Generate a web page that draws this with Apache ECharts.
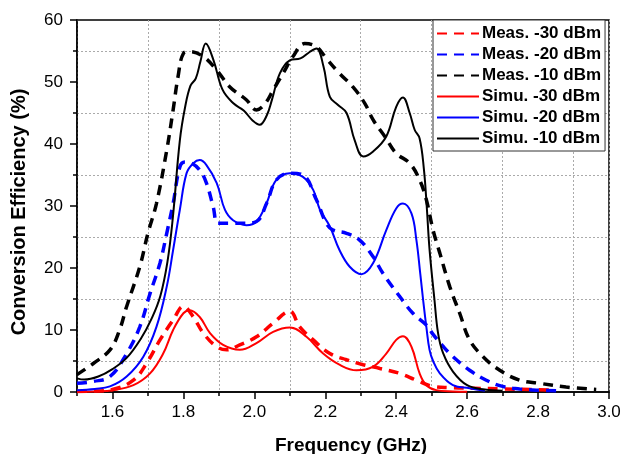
<!DOCTYPE html>
<html>
<head>
<meta charset="utf-8">
<script src="https://cdn.jsdelivr.net/npm/echarts@6/dist/echarts.min.js"></script>
<style>
html,body{margin:0;padding:0;background:#fff;}
#chart{width:624px;height:454px;}
</style>
</head>
<body>
<div id="chart"></div>
<script>
// ---- tick labels ----
const freqTicks = [1.6, 1.8, 2.0, 2.2, 2.4, 2.6, 2.8, 3.0];
const seriesNames = ['Meas. -30 dBm', 'Meas. -20 dBm', 'Meas. -10 dBm', 'Simu. -30 dBm', 'Simu. -20 dBm', 'Simu. -10 dBm'];

// ---- Meas. -30 dBm ----
const measM30Freq = [1.50,1.55,1.60,1.659,1.696,1.734,1.771,1.80,1.828,1.856,1.894,1.922,1.959,2.006,2.053,2.10,2.128,2.166,2.213,2.26,2.307,2.354,2.41,2.457,2.504,2.55,2.62,2.70,2.78,2.85];
const measM30Val  = [0.1,0.15,0.4,1.9,4.6,8.4,11.6,13.8,12.1,9.5,7.3,6.8,7.6,8.9,11.1,13.0,10.5,8.4,6.2,5.2,4.4,3.8,3.0,1.9,0.9,0.7,0.6,0.5,0.4,0.3];

// ---- Meas. -20 dBm ----
const measM20Freq = [1.50,1.546,1.593,1.64,1.677,1.706,1.734,1.753,1.771,1.79,1.804,1.823,1.846,1.865,1.884,1.898,1.931,1.968,2.006,2.035,2.062,2.10,2.137,2.175,2.203,2.222,2.26,2.297,2.335,2.363,2.41,2.447,2.485,2.504,2.53,2.56,2.607,2.654,2.70,2.748,2.795,2.87];
const measM20Val  = [1.4,1.7,2.5,6.2,10.5,15.9,20.8,25.6,30.4,36.3,37.1,36.9,35.8,33.7,29.9,27.2,27.2,27.2,27.5,30.5,34.2,35.3,35.0,31.0,27.2,26.1,25.6,24.5,21.8,19.1,15.4,12.7,10.8,9.3,7.5,5.7,3.5,1.9,0.9,0.5,0.3,0.2];

// ---- Meas. -10 dBm ----
const measM10Freq = [1.50,1.546,1.593,1.62,1.64,1.677,1.70,1.724,1.753,1.771,1.785,1.80,1.818,1.856,1.894,1.931,1.978,2.006,2.03,2.053,2.081,2.109,2.142,2.175,2.203,2.24,2.278,2.311,2.335,2.368,2.40,2.438,2.466,2.485,2.504,2.523,2.551,2.579,2.607,2.645,2.692,2.748,2.804,2.879,2.964];
const measM10Val  = [2.8,4.6,6.8,10,13.8,20.2,25.6,30.4,39,45.5,50.9,54.6,54.9,54.1,51.9,49.2,47.1,45.5,46.5,48.7,51.4,54.1,56.2,55.7,53.8,51.4,49.2,46.6,43.9,41.2,38.5,36.9,34.2,31,26.1,22.4,17,12.7,8.4,5.7,3.5,1.9,1.4,0.8,0.4];

// ---- Simu. -30 dBm ----
const simuM30Freq = [1.50,1.55,1.602,1.659,1.706,1.743,1.771,1.80,1.818,1.846,1.875,1.912,1.959,2.006,2.053,2.10,2.147,2.194,2.24,2.288,2.335,2.372,2.40,2.419,2.443,2.466,2.485,2.513,2.56,2.60];
const simuM30Val  = [0.05,0.1,0.3,1.1,3.0,6.2,10,12.7,13.2,12.1,9.5,7.6,6.8,7.9,9.7,10.4,8.9,6.2,4.4,3.5,4.1,6.2,8.4,9.0,7.3,3.0,1.1,0.3,0.1,0.05];

// ---- Simu. -20 dBm ----
const simuM20Freq = [1.50,1.55,1.593,1.64,1.687,1.724,1.753,1.771,1.79,1.809,1.828,1.846,1.865,1.894,1.917,1.94,1.978,2.006,2.034,2.062,2.10,2.137,2.166,2.185,2.213,2.24,2.269,2.302,2.335,2.372,2.40,2.419,2.443,2.457,2.468,2.476,2.485,2.494,2.504,2.523,2.56,2.607,2.65];
const simuM20Val  = [0.3,0.5,0.9,2.5,5.7,10.5,17,22.9,29.4,35.3,36.9,37.4,36.6,33.7,29.4,27.7,26.9,27.5,30.4,34.2,35.3,34.7,32.6,29.4,26.7,22.9,20.2,19.0,20.8,26.1,29.6,30.4,28.8,24.5,19,14.8,10.5,6.8,5.0,3.0,1.1,0.6,0.2];

// ---- Simu. -10 dBm ----
const simuM10Freq = [1.50,1.52,1.56,1.60,1.64,1.68,1.71,1.735,1.755,1.77,1.79,1.805,1.82,1.835,1.848,1.863,1.885,1.91,1.94,1.97,1.995,2.015,2.035,2.05,2.072,2.10,2.13,2.155,2.175,2.195,2.213,2.236,2.26,2.283,2.307,2.335,2.372,2.40,2.419,2.438,2.452,2.466,2.478,2.486,2.494,2.508,2.518,2.532,2.56,2.60,2.65,2.70];
const simuM10Val  = [2.2,2.0,2.5,3.7,5.5,8.6,11.8,15.5,21,28,40.6,46,49.4,50.6,53.3,56.2,53.5,48.8,46.6,45.4,43.8,43.1,44.6,47.2,51.4,53.5,53.8,54.8,55.4,52.5,47.6,46.3,45,40.6,38,38.8,41.2,46,47.5,45,42.3,40.9,36,30,23,14.8,9.5,6.3,3.3,1.1,0.4,0.2];

function pairs(fs, vs) { return fs.map((f, i) => [f, vs[i]]); }

const FONT = '"Liberation Sans", Arial, sans-serif';
const RED = '#ff0000', BLUE = '#0000ff', BLACK = '#000000';

function measSeries(name, fs, vs, color) {
  return {
    name, type: 'line', xAxisIndex: 0, yAxisIndex: 0,
    data: pairs(fs, vs), smooth: 0.4, symbol: 'none', showSymbol: false,
    lineStyle: { color, width: 3.5, type: [10, 7] },
    itemStyle: { color }, z: 3
  };
}
function simuSeries(name, fs, vs, color) {
  return {
    name, type: 'line', xAxisIndex: 0, yAxisIndex: 0,
    data: pairs(fs, vs), smooth: 0.4, symbol: 'none', showSymbol: false,
    lineStyle: { color, width: 2 },
    itemStyle: { color }, z: 4
  };
}

const chart = echarts.init(document.getElementById('chart'), null, { renderer: 'canvas' });
chart.setOption({
  animation: false,
  backgroundColor: '#fff',
  textStyle: { fontFamily: FONT },
  grid: { left: 77, right: 15, top: 20, bottom: 62, containLabel: false, outerBoundsMode: 'none', show: true, borderColor: '#000', borderWidth: 1.5, backgroundColor: 'transparent' },
  legend: {
    orient: 'vertical', left: 433, top: 20,
    data: seriesNames,
    itemWidth: 42, itemHeight: 14, itemGap: 4,
    padding: [5, 4, 4, 3],
    backgroundColor: '#fff', borderColor: '#333', borderWidth: 1, borderRadius: 0,
    itemStyle: { opacity: 0 },
    textStyle: { fontFamily: FONT, fontSize: 17, fontWeight: 'bold', color: '#000', lineHeight: 17, padding: [0, 0, 0, -2] }
  },
  xAxis: [
    {
      type: 'value', min: 1.5, max: 3.0, position: 'bottom',
      name: 'Frequency (GHz)', nameLocation: 'middle', nameGap: 44,
      nameTextStyle: { fontFamily: FONT, fontSize: 19, fontWeight: 'bold', color: '#000', padding: [0, 0, 0, 16] },
      axisLine: { show: true, lineStyle: { color: '#000', width: 1.5 } },
      axisTick: { show: true, customValues: freqTicks, length: 7, lineStyle: { color: '#000', width: 1.5 } },
      axisLabel: { customValues: freqTicks, formatter: v => Number(v).toFixed(1), fontFamily: FONT, fontSize: 17, color: '#000', margin: 12 },
      splitLine: { show: false }
    },
    {
      type: 'value', min: 1.5, max: 3.0, interval: 0.2, position: 'bottom',
      axisLine: { show: false },
      axisTick: { show: true, length: 4, lineStyle: { color: '#000', width: 1.5 } },
      axisLabel: { show: false },
      splitLine: { show: true, lineStyle: { color: '#aaa', width: 1, type: [2, 2] } }
    }
  ],
  yAxis: {
    type: 'value', min: 0, max: 60, interval: 10,
    name: 'Conversion Efficiency (%)', nameLocation: 'middle', nameGap: 48,
    nameTextStyle: { fontFamily: FONT, fontSize: 20, fontWeight: 'bold', color: '#000', padding: [0, 12, 0, 0] },
    axisLine: { show: true, lineStyle: { color: '#000', width: 1.5 } },
    axisTick: { show: true, length: 7, lineStyle: { color: '#000', width: 1.5 } },
    minorTick: { show: true, splitNumber: 2, length: 4, lineStyle: { color: '#000', width: 1.5 } },
    minorSplitLine: { show: true, lineStyle: { color: '#aaa', width: 1, type: [2, 2] } },
    axisLabel: { fontFamily: FONT, fontSize: 17, color: '#000', margin: 14 },
    splitLine: { show: false }
  },
  series: [
    measSeries(seriesNames[0], measM30Freq, measM30Val, RED),
    measSeries(seriesNames[1], measM20Freq, measM20Val, BLUE),
    measSeries(seriesNames[2], measM10Freq, measM10Val, BLACK),
    simuSeries(seriesNames[3], simuM30Freq, simuM30Val, RED),
    simuSeries(seriesNames[4], simuM20Freq, simuM20Val, BLUE),
    simuSeries(seriesNames[5], simuM10Freq, simuM10Val, BLACK)
  ]
});
</script>
</body>
</html>
